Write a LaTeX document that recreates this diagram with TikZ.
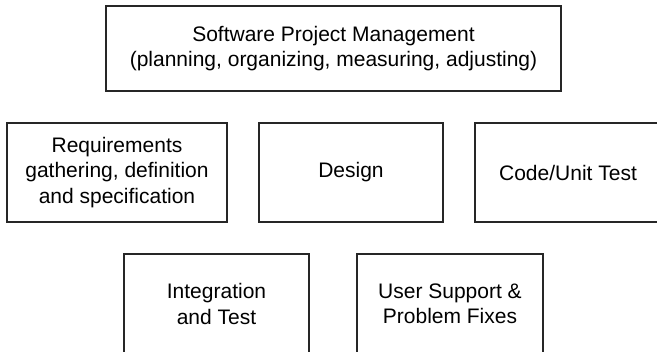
\documentclass[tikz,border=0pt]{standalone}
\usepackage{fontspec}
\setmainfont{Liberation Sans}
\begin{document}
\begin{tikzpicture}[x=1pt,y=1pt,
  blk/.style={draw=black!85, line width=1.1pt, rectangle, inner sep=0pt,
    align=center, font=\fontsize{21}{25.5}\selectfont},
  wide/.style={blk, minimum width=455pt, minimum height=85pt},
  stage/.style={blk, minimum width=#1, minimum height=99pt}]
\useasboundingbox (0,0) rectangle (657,-352);
\clip (0,0) rectangle (657,-352);
% management layer on top
\node[wide] (mgmt) at (333.5,-48.5)
  {Software Project Management\\(planning, organizing, measuring, adjusting)};
% life-cycle activities
\node[stage=220pt] (req) at (117,-172.5)
  {Requirements\\gathering, definition\\and specification};
\node[stage=184pt] (design) at (351,-172.5) {Design};
\node[stage=186pt] (code) at (568,-172.5) {Code/Unit Test};
\node[stage=185pt, minimum height=100pt] (integ) at (216.5,-304)
  {Integration\\and Test};
\node[stage=186pt, minimum height=100pt] (support) at (450,-304)
  {User Support \&\\Problem Fixes};
\end{tikzpicture}
\end{document}
